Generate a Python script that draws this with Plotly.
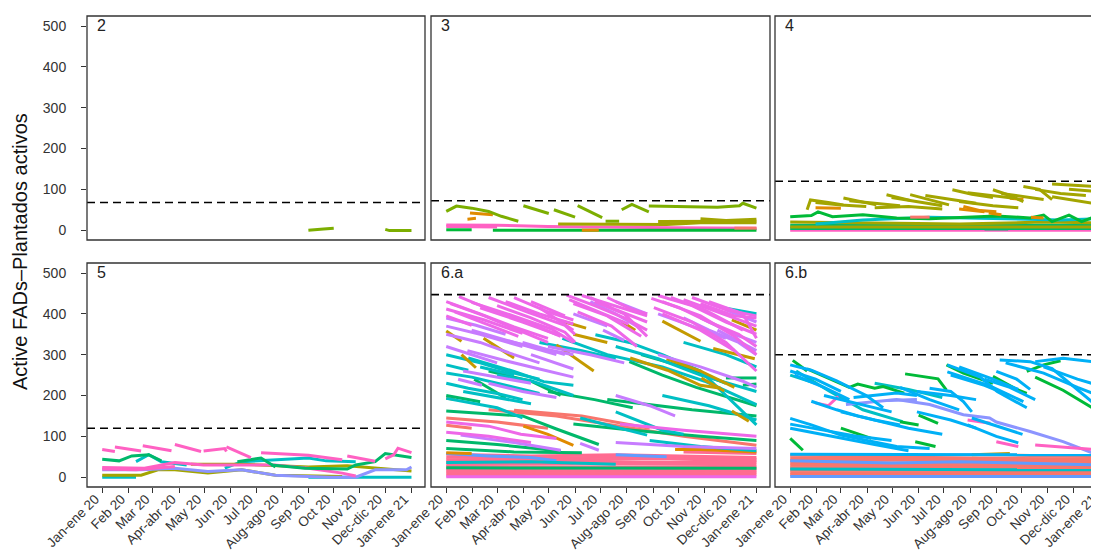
import pandas as pd
import plotly.graph_objects as go

BASE = pd.Timestamp("2020-01-01")

# ---- axis / panel data ----
TICK_DAYS = [0, 31, 60, 91, 121, 152, 182, 213, 244, 274, 305, 335, 366]
TICK_LABELS = ["Jan-ene 20", "Feb 20", "Mar 20", "Apr-abr 20", "May 20", "Jun 20",
               "Jul 20", "Aug-ago 20", "Sep 20", "Oct 20", "Nov 20", "Dec-dic 20", "Jan-ene 21"]
Y_TICKS = [0, 100, 200, 300, 400, 500]
PANELS = ["2", "3", "4", "5", "6.a", "6.b"]
CAPACITY = [68, 72, 120, 120, 447, 300]

COLORS = {
    "salmon": "#F8766D", "orange": "#E08B00", "gold": "#C49A00", "olive": "#A3A500",
    "lime": "#7CAE00", "green": "#00BA38", "green2": "#00B86A", "teal": "#00BFC4",
    "sky": "#00B0F6", "blue": "#619CFF", "peri": "#8C94FF", "violet": "#C77CFF",
    "magenta": "#EE67E8", "pink": "#FF61C3", "rose": "#FF6C91",
}

# Each trajectory: flat list [day, value, day, value, ...]; day 0 = 2020-01-01

# ---- panel 2 ----
P2_LIME = [[244, 0, 252, 2, 262, 3, 274, 5], [335, 2, 340, -1, 366, -1]]

# ---- panel 3 ----
P3_LIME = [[0, 46, 12, 59, 30, 54, 50, 46, 65, 34, 85, 22], [91, 60, 121, 41], [127, 50, 152, 32],
           [155, 60, 184, 31], [188, 22, 204, 22], [207, 50, 219, 63, 239, 45],
           [239, 59, 280, 58, 320, 56, 346, 60, 350, 66, 366, 54]]
P3_ORANGE = [[25, 27, 35, 29], [28, 42, 50, 40, 55, 38], [160, 0, 180, 0]]
P3_OLIVE = [[132, 15, 200, 15, 260, 14, 300, 18, 366, 18], [300, 28, 330, 24, 366, 27],
            [250, 21, 300, 22, 366, 22]]
P3_PINK = [[0, 13, 60, 12, 120, 9, 200, 7, 270, 6, 366, 5], [240, 3, 366, 3], [0, 9, 60, 8]]
P3_GREEN = [[0, 1, 30, 1], [55, 0, 200, 0, 366, 0]]
P3_SALMON = [[340, 5, 366, 5]]

# ---- panel 4 ----
P4_OLIVE = [[20, 50, 24, 74, 45, 68, 63, 62], [63, 79, 85, 70, 102, 62], [114, 87, 142, 73],
            [142, 87, 165, 75, 188, 62], [192, 99, 215, 88, 240, 80], [240, 99, 260, 85, 276, 70],
            [276, 107, 295, 100, 310, 75], [310, 113, 335, 110, 363, 107], [310, 82, 340, 72, 363, 64],
            [100, 55, 140, 58, 180, 52], [200, 70, 240, 60, 270, 55],
            [30, 68, 60, 62, 90, 58], [70, 72, 100, 66, 130, 60], [120, 80, 150, 70, 180, 60],
            [160, 85, 190, 75, 220, 66], [210, 92, 240, 85, 265, 78], [250, 90, 280, 82, 300, 75],
            [290, 100, 320, 90, 350, 85], [330, 100, 363, 95]]
P4_ORANGE = [[30, 55, 60, 54], [205, 58, 225, 48, 244, 45], [260, 78, 276, 75], [285, 32, 300, 30],
             [200, 52, 230, 45], [235, 42, 250, 38]]
P4_SALMON = [[142, 32, 165, 32]]
P4_GREEN = [[0, 33, 25, 36, 33, 45, 50, 33, 86, 38, 126, 30, 165, 28, 205, 32, 244, 35, 284, 30,
             300, 37, 310, 21, 330, 37, 345, 21, 363, 35]]
P4_TEAL = [[30, 15, 86, 25, 165, 32, 244, 28, 320, 25, 363, 28]]
P4_OLIVE2 = [[0, 20, 100, 18, 200, 15, 300, 20, 363, 18], [0, 8, 363, 8]]
P4_GREEN2 = [[0, 12, 363, 12], [0, 4, 363, 4], [230, 3, 258, 3]]
P4_PINK = [[0, 0, 363, 0]]

# ---- panel 5 ----
P5_PINK = [[0, 68, 15, 63], [15, 74, 46, 64], [48, 77, 82, 65], [86, 80, 117, 63],
           [120, 64, 145, 70, 147, 63], [147, 74, 176, 48], [188, 60, 244, 54, 284, 43],
           [290, 52, 323, 39], [335, 45, 345, 55, 350, 71, 366, 60]]
P5_PINK2 = [[0, 24, 50, 22, 86, 36, 120, 30, 165, 30, 204, 30, 244, 22, 284, 10, 300, 3],
            [0, 20, 40, 18, 86, 26]]
P5_GREEN = [[0, 44, 20, 40, 35, 52, 55, 55, 70, 40], [160, 38, 188, 47, 205, 25],
            [200, 30, 240, 22, 290, 20, 300, 30, 323, 38, 335, 58, 366, 48]]
P5_TEAL = [[0, 0, 40, 0], [40, 38, 55, 55, 70, 38, 100, 30], [145, 22, 165, 38, 244, 47, 265, 40, 300, 38],
           [244, 0, 366, 0]]
P5_OLIVE = [[0, 5, 46, 5, 66, 18, 86, 18, 125, 10, 165, 18, 205, 5, 284, 2],
            [105, 32, 165, 32, 244, 25, 290, 28, 366, 15]]
P5_PERI = [[0, 18, 46, 18, 86, 22, 125, 14, 165, 18, 205, 5, 244, 2, 270, 0, 300, 0, 323, 18,
            360, 18, 366, 25]]

# ---- panel 6.a ----
P6A_ROSE = [[0, 56, 100, 52, 200, 55, 300, 50, 366, 48], [0, 49, 120, 47, 240, 50, 366, 44],
            [0, 43, 150, 42, 250, 45, 366, 40], [0, 37, 366, 36], [0, 31, 180, 34, 366, 30],
            [0, 26, 366, 25], [0, 20, 200, 22, 366, 20], [0, 15, 366, 15], [0, 10, 366, 11],
            [0, 5, 366, 6], [280, 62, 366, 58]]
P6A_SALMON = [[50, 165, 130, 150, 205, 125, 280, 100, 366, 78], [0, 127, 30, 120],
              [80, 164, 160, 150, 240, 120], [0, 145, 60, 135, 120, 120]]
P6A_VIOLET0 = [[0, 1, 366, 1]]
P6A_BLUE = [[0, 58, 50, 52, 100, 48, 130, 40], [200, 55, 260, 50]]
P6A_ORANGE = [[91, 125, 120, 105, 150, 78], [0, 194, 10, 190], [270, 68, 300, 68, 366, 62], [0, 60, 30, 58]]
P6A_GREEN = [[0, 162, 90, 150, 130, 118, 180, 80], [33, 240, 70, 194], [100, 235, 135, 200],
             [120, 210, 175, 190, 220, 170], [216, 283, 255, 250, 295, 220, 366, 175],
             [330, 243, 366, 243], [0, 90, 60, 80, 135, 64], [190, 190, 290, 165, 366, 150],
             [350, 225, 366, 228], [0, 23, 366, 22], [0, 200, 40, 185], [50, 260, 100, 235],
             [230, 300, 280, 270, 330, 230], [150, 130, 220, 115, 300, 100, 366, 90],
             [0, 70, 80, 62, 160, 60]]
P6A_TEAL = [[0, 275, 26, 262], [0, 230, 26, 218, 60, 205, 90, 190], [0, 193, 60, 170, 90, 145],
            [26, 292, 80, 259, 115, 234, 150, 225], [60, 250, 100, 236, 150, 200],
            [137, 340, 190, 300, 255, 270, 305, 235, 366, 178],
            [176, 349, 216, 330, 255, 300, 300, 260, 366, 128], [200, 160, 255, 115, 280, 105],
            [330, 414, 366, 400], [255, 200, 310, 175, 366, 140], [158, 145, 237, 103],
            [0, 36, 100, 38, 200, 32], [0, 300, 40, 280, 80, 255, 110, 240],
            [0, 255, 30, 245, 70, 225, 110, 205], [20, 210, 60, 195, 100, 180], [40, 270, 80, 250],
            [110, 330, 160, 310, 200, 290], [200, 320, 250, 290, 300, 250, 366, 210],
            [280, 330, 330, 300, 366, 270], [240, 90, 300, 75, 366, 65]]
P6A_GOLD = [[0, 358, 18, 333], [18, 300, 35, 268], [44, 340, 80, 292], [130, 324, 174, 260],
            [137, 382, 165, 365], [217, 292, 261, 262, 300, 225, 324, 218], [255, 382, 300, 333],
            [301, 243, 328, 211], [337, 162, 357, 137], [337, 385, 366, 360], [315, 315, 364, 290],
            [207, 381, 223, 360], [150, 350, 190, 330], [260, 290, 300, 260, 340, 220]]
P6A_VIOLET = [[0, 390, 35, 372, 70, 350], [0, 350, 40, 330, 80, 300, 110, 280],
              [25, 310, 70, 285, 110, 265, 150, 245], [60, 340, 100, 320, 150, 300],
              [170, 430, 200, 400, 225, 370], [185, 360, 210, 335], [280, 390, 310, 360, 345, 330, 366, 300],
              [330, 410, 366, 380], [14, 240, 42, 225], [17, 103, 80, 85, 135, 66], [158, 83, 180, 66],
              [200, 200, 240, 175, 270, 150], [0, 370, 40, 350, 90, 320], [30, 360, 80, 330, 130, 300],
              [90, 330, 140, 300], [100, 300, 150, 265], [150, 400, 190, 370], [200, 430, 237, 400],
              [250, 400, 290, 370, 330, 340], [300, 390, 340, 350, 366, 330], [320, 360, 366, 310],
              [0, 320, 30, 300, 60, 280], [20, 260, 60, 245, 100, 230], [50, 230, 90, 210, 130, 195],
              [120, 320, 170, 300, 210, 280], [250, 300, 300, 270, 350, 235, 366, 220],
              [200, 85, 280, 75, 366, 70]]
P6A_MAGENTA = [[0, 430, 40, 400, 80, 368, 120, 340], [15, 442, 55, 408, 95, 380, 135, 345],
               [0, 412, 45, 385, 90, 352], [30, 428, 75, 398, 125, 362, 150, 330],
               [50, 440, 95, 405, 140, 372, 152, 350], [70, 430, 110, 400, 150, 375], [0, 395, 30, 372],
               [142, 446, 175, 420, 210, 390, 237, 360], [150, 425, 190, 395, 230, 345],
               [170, 440, 200, 410, 237, 380], [155, 405, 195, 370, 225, 320],
               [242, 438, 275, 415, 310, 380, 345, 350, 366, 320], [255, 430, 300, 395, 340, 345, 366, 300],
               [280, 435, 320, 405, 366, 370], [245, 415, 290, 380, 330, 330, 366, 260],
               [300, 425, 340, 395, 366, 390], [0, 135, 50, 125, 88, 105, 130, 95],
               [205, 130, 280, 115, 366, 100], [5, 425, 45, 395, 85, 360, 120, 330],
               [10, 405, 50, 372, 85, 345], [40, 415, 90, 380, 130, 350], [60, 420, 100, 390, 140, 355, 152, 330],
               [80, 440, 120, 405, 150, 385], [100, 430, 140, 395], [110, 415, 150, 360],
               [145, 435, 180, 405, 215, 375], [160, 445, 200, 420, 237, 395], [175, 430, 210, 400, 237, 345],
               [190, 440, 220, 410, 237, 400], [250, 445, 290, 420, 330, 380, 366, 350],
               [265, 440, 305, 410, 350, 360], [290, 440, 330, 410, 366, 395], [310, 430, 350, 400, 366, 340],
               [255, 400, 300, 360, 340, 310], [0, 110, 50, 100, 100, 85]]

# ---- panel 6.b ----
P6B_SALMON = [[0, 54, 120, 52, 240, 55, 366, 50], [0, 47, 366, 45], [0, 41, 200, 42, 366, 38],
              [0, 35, 366, 33], [0, 29, 366, 28], [0, 23, 180, 25, 366, 22], [0, 17, 366, 16],
              [0, 11, 366, 11], [0, 6, 366, 5]]
P6B_BLUE = [[0, 2, 366, 2], [0, 40, 120, 35, 200, 38, 366, 30]]
P6B_TEAL = [[7, 260, 47, 210, 86, 165, 133, 136], [0, 20, 366, 18], [0, 250, 30, 230],
            [100, 230, 140, 215, 180, 195]]
P6B_SKY = [[0, 275, 25, 262, 55, 236, 90, 200, 110, 170], [0, 144, 25, 128, 60, 103, 100, 87, 126, 75, 165, 70],
           [0, 120, 30, 108, 60, 95, 100, 80, 140, 65], [25, 186, 55, 165, 80, 150, 100, 140, 130, 128],
           [75, 195, 126, 206, 150, 200], [165, 218, 190, 210, 205, 185, 215, 160],
           [186, 275, 225, 245, 245, 210, 280, 170], [186, 258, 235, 225, 276, 185],
           [244, 259, 268, 240, 284, 215], [248, 287, 284, 283, 310, 266, 365, 171],
           [290, 283, 323, 291, 365, 281], [210, 128, 244, 100, 270, 84], [130, 220, 165, 190, 200, 165],
           [0, 56, 366, 55], [0, 260, 30, 240, 60, 210], [5, 250, 40, 220, 70, 190],
           [40, 200, 80, 180, 120, 160], [60, 160, 100, 140, 140, 120, 180, 105],
           [0, 130, 40, 115, 80, 100, 120, 90], [150, 210, 190, 200, 220, 190],
           [190, 250, 230, 225, 260, 200], [200, 270, 240, 240, 270, 215], [230, 240, 260, 220, 290, 190],
           [255, 280, 300, 255, 340, 220, 365, 200], [300, 270, 340, 240, 365, 225],
           [150, 160, 190, 140, 220, 120], [215, 145, 245, 125, 275, 105]]
P6B_GREEN = [[3, 286, 20, 260], [20, 265, 50, 237, 70, 220, 80, 228, 100, 218, 110, 222, 135, 206],
             [136, 253, 175, 241, 185, 213], [185, 275, 205, 255, 240, 230], [240, 247, 268, 215, 280, 205],
             [280, 259, 300, 275, 320, 285], [290, 245, 323, 213, 365, 161], [0, 95, 15, 66],
             [60, 120, 96, 95], [130, 136, 152, 128], [152, 152, 175, 132], [148, 87, 172, 75]]
P6B_PERI = [[66, 178, 126, 190, 165, 178, 205, 153, 236, 145, 244, 135, 284, 112, 323, 87, 363, 55],
            [115, 188, 150, 190]]
P6B_PINK = [[30, 182, 45, 175, 57, 198], [210, 140, 237, 132], [244, 87, 270, 75], [290, 79, 365, 67]]
P6B_GOLD = [[215, 55, 260, 58]]

PANEL_SERIES = [
    [("lime", P2_LIME)],
    [("pink", P3_PINK), ("green", P3_GREEN), ("olive", P3_OLIVE), ("orange", P3_ORANGE),
     ("salmon", P3_SALMON), ("lime", P3_LIME)],
    [("pink", P4_PINK), ("green2", P4_GREEN2), ("olive", P4_OLIVE2), ("teal", P4_TEAL),
     ("green", P4_GREEN), ("salmon", P4_SALMON), ("orange", P4_ORANGE), ("olive", P4_OLIVE)],
    [("teal", P5_TEAL), ("olive", P5_OLIVE), ("peri", P5_PERI), ("pink", P5_PINK2),
     ("green2", P5_GREEN), ("pink", P5_PINK)],
    [("rose", P6A_ROSE), ("magenta", P6A_VIOLET0), ("blue", P6A_BLUE), ("salmon", P6A_SALMON),
     ("orange", P6A_ORANGE), ("green2", P6A_GREEN), ("teal", P6A_TEAL), ("gold", P6A_GOLD),
     ("violet", P6A_VIOLET), ("magenta", P6A_MAGENTA)],
    [("salmon", P6B_SALMON), ("blue", P6B_BLUE), ("teal", P6B_TEAL), ("gold", P6B_GOLD),
     ("peri", P6B_PERI), ("pink", P6B_PINK), ("green", P6B_GREEN), ("sky", P6B_SKY)],
]


def to_xy(polys):
    xs, ys = [], []
    for p in polys:
        for i in range(0, len(p), 2):
            xs.append(BASE + pd.Timedelta(days=p[i]))
            ys.append(p[i + 1])
        xs.append(None)
        ys.append(None)
    return xs, ys


FONT = "Liberation Sans, Arial, sans-serif"
fig = go.Figure()

W, H = 1099, 556
ML, MR, MT, MB = 79, 0, 8, 76
PW, PH = W - ML - MR, H - MT - MB
X_PIX = [(0, 338), (344, 683), (688, 1020)]
Y_PIX = [(8, 232), (255, 479)]
X_RANGE_END = ["2021-01-17", "2021-01-17", "2021-01-10"]

tickvals = [BASE + pd.Timedelta(days=d) for d in TICK_DAYS]
shapes, annotations = [], []

for i, name in enumerate(PANELS):
    row, col = divmod(i, 3)
    xa = "x" if i == 0 else f"x{i+1}"
    ya = "y" if i == 0 else f"y{i+1}"
    for cname, polys in PANEL_SERIES[i]:
        xs, ys = to_xy(polys)
        fig.add_trace(go.Scatter(x=xs, y=ys, mode="lines", xaxis=xa, yaxis=ya,
                                 line=dict(color=COLORS[cname], width=3),
                                 hoverinfo="skip", showlegend=False))
    x0p, x1p = X_PIX[col]
    y0p, y1p = Y_PIX[row]
    xdom = [x0p / PW, x1p / PW]
    ydom = [(H - MB - y1p) / PH, (H - MB - y0p) / PH]
    fig.layout[f"xaxis{i+1}"] = dict(
        domain=xdom, anchor=ya, type="date", range=["2019-12-14", X_RANGE_END[col]],
        tickvals=tickvals, ticktext=TICK_LABELS, tickangle=-45,
        showticklabels=(row == 1), ticks="outside" if row == 1 else "",
        ticklen=5, tickcolor="#333333", tickwidth=1,
        ticklabelstandoff=-7, ticklabelshift=-7,
        tickfont=dict(family=FONT, size=13.5, color="#333333"),
        showgrid=False, zeroline=False, showline=False)
    fig.layout[f"yaxis{i+1}"] = dict(
        domain=ydom, anchor=xa, range=[-24, 524.5], tickvals=Y_TICKS,
        showticklabels=(col == 0), ticks="outside" if col == 0 else "",
        ticklen=5, tickcolor="#333333", tickwidth=1, ticklabelstandoff=12,
        tickfont=dict(family=FONT, size=14, color="#333333"),
        showgrid=False, zeroline=False, showline=False)
    # capacity dashed line
    shapes.append(dict(type="line", xref=f"{xa} domain", yref=ya, x0=0, x1=1,
                       y0=CAPACITY[i], y1=CAPACITY[i],
                       line=dict(color="black", width=1.6, dash="8px,5px")))
    # panel border
    x1b = 1.0 if col < 2 else 1.03
    shapes.append(dict(type="rect", xref=f"{xa} domain", yref=f"{ya} domain",
                       x0=0, x1=x1b, y0=0, y1=1, line=dict(color="#333333", width=1.3),
                       fillcolor="rgba(0,0,0,0)"))
    annotations.append(dict(text=name, xref=f"{xa} domain", yref=f"{ya} domain",
                            x=0.025, y=1.005, xanchor="left", yanchor="top", showarrow=False,
                            font=dict(family=FONT, size=16, color="#222222")))

annotations.append(dict(text="Active FADs\u2013Plantados activos", xref="paper", yref="paper",
                        x=(12 - ML) / PW, y=0.5, xanchor="center", yanchor="middle",
                        textangle=-90, showarrow=False,
                        font=dict(family=FONT, size=20, color="#111111")))

fig.update_layout(width=W, height=H, margin=dict(l=ML, r=MR, t=MT, b=MB),
                  paper_bgcolor="white", plot_bgcolor="white",
                  shapes=shapes, annotations=annotations, showlegend=False)

fig.write_html("out.html")
